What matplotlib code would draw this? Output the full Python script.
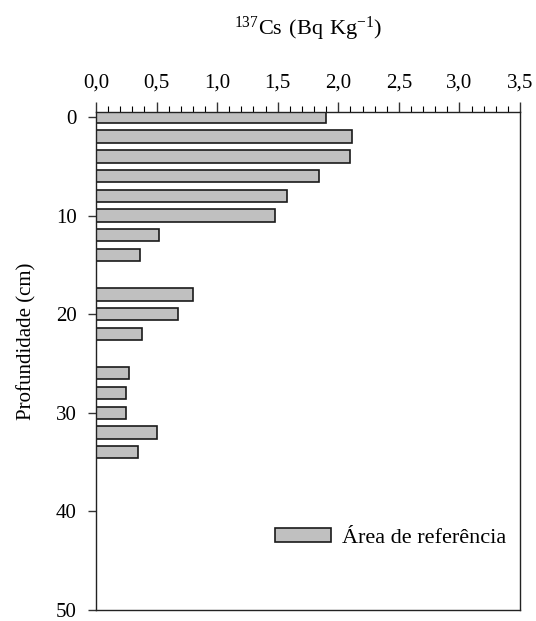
import numpy as np
import matplotlib
matplotlib.use('Agg')
import matplotlib.pyplot as plt
from matplotlib.ticker import MultipleLocator

plt.rcParams['font.family'] = ['Liberation Serif', 'DejaVu Serif']
plt.rcParams['mathtext.fontset'] = 'custom'
plt.rcParams['mathtext.rm'] = 'Liberation Serif'

depth = [0, 2, 4, 6, 8, 10, 12, 14, 18, 20, 22, 26, 28, 30, 32, 34]
cs137 = [1.90, 2.11, 2.10, 1.84, 1.58, 1.475, 0.52, 0.36,
         0.80, 0.68, 0.38, 0.27, 0.25, 0.25, 0.50, 0.35]
xticks = [0, 0.5, 1.0, 1.5, 2.0, 2.5, 3.0, 3.5]
xticklabels = ['0,0', '0,5', '1,0', '1,5', '2,0', '2,5', '3,0', '3,5']
yticks = [0, 10, 20, 30, 40, 50]

fig = plt.figure(figsize=(5.36, 6.21), dpi=100)
ax = fig.add_axes([96/536, 1 - 610/621, 424/536, 498/621])

ax.barh(depth, cs137, height=1.25, color='#c0c0c0', edgecolor='#1a1a1a',
        linewidth=1.2, label='Área de referência')

ax.set_xlim(0, 3.5)
ax.set_ylim(50, -0.5)
ax.xaxis.tick_top()
ax.xaxis.set_label_position('top')
ax.set_xticks(xticks)
ax.set_xticklabels(xticklabels)
ax.xaxis.set_minor_locator(MultipleLocator(0.1))
ax.set_yticks(yticks)
ax.tick_params(axis='both', labelsize=15, direction='out', width=1, color='#333333')
ax.tick_params(axis='x', which='major', length=7, pad=7)
ax.tick_params(axis='x', which='minor', length=4, width=0.8)
ax.tick_params(axis='y', length=6, pad=8)
for s in ax.spines.values():
    s.set_linewidth(1.0)
    s.set_color('#222222')

ax.set_xlabel(r'$\mathregular{^{137}Cs\ (Bq\ Kg^{-1})}$', fontsize=16, labelpad=28)
ax.set_ylabel('Profundidade (cm)', fontsize=15)
ax.yaxis.set_label_coords(-0.14, 0.54)

ax.legend(loc='lower right', bbox_to_anchor=(1.015, 0.085), frameon=False, fontsize=16,
          handlelength=2.5, handleheight=0.55, handletextpad=0.5)

fig.savefig('out.png', dpi=100)
